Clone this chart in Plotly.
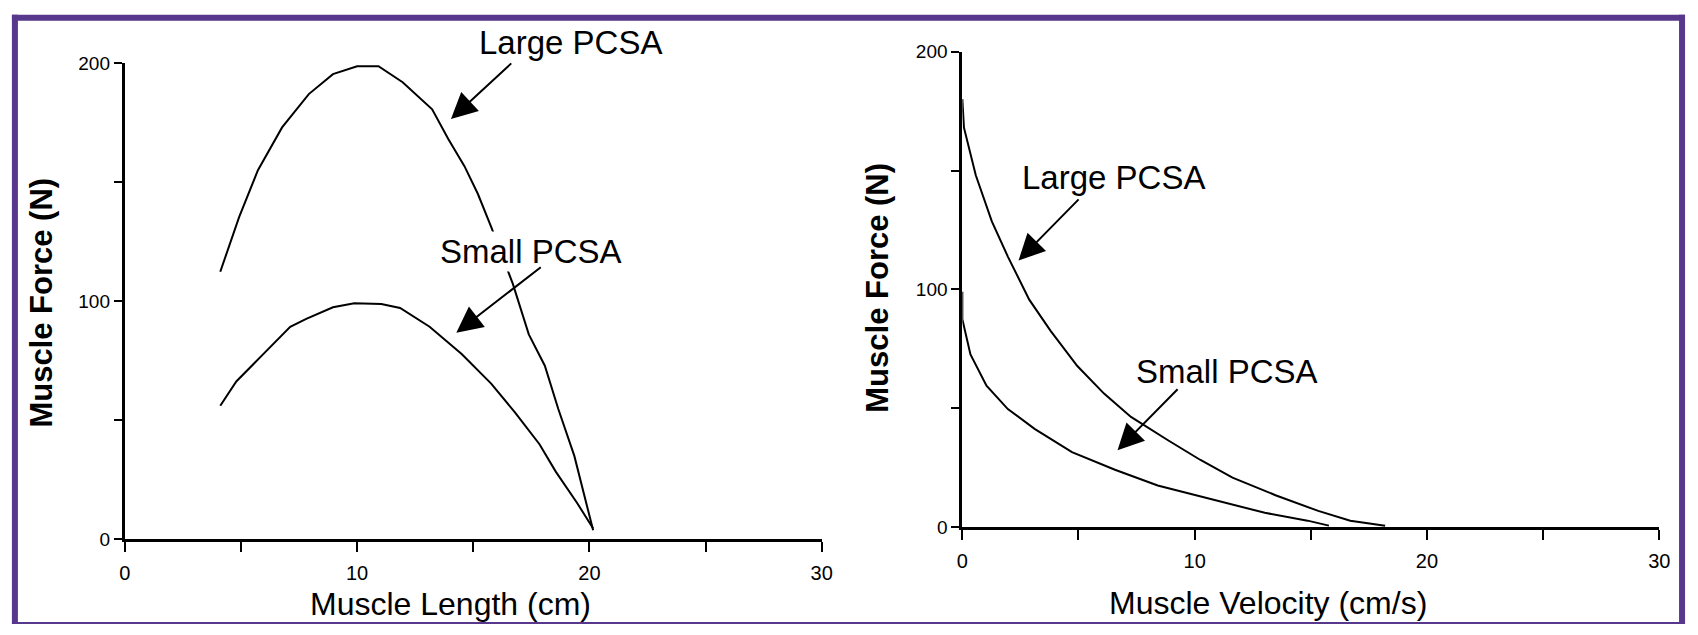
import plotly.graph_objects as go

W, H = 1698, 635

def px(x):
    return x / W

def py(y):
    return 1 - y / H

# ---- Data: Force-Length (left panel) ----
len_large_x = [4.11, 4.92, 5.73, 6.77, 7.92, 8.96, 10.0, 10.92, 11.96, 13.23, 13.93, 14.62, 15.2, 15.77,
               16.7, 17.39, 18.08, 18.66, 19.35, 20.16]
len_large_y = [112.3, 135.3, 155.0, 173.0, 187.0, 195.4, 198.7, 198.7, 192.0, 180.6, 168.0, 156.7, 145.0, 131.2,
               107.3, 86.0, 72.8, 54.6, 34.9, 3.6]
len_small_x = [4.11, 4.8, 5.96, 7.12, 7.81, 8.96, 9.88, 11.04, 11.85, 13.12, 14.5, 15.77, 16.81, 17.85,
               18.55, 19.47, 20.16]
len_small_y = [56.0, 66.2, 77.7, 89.2, 92.5, 97.4, 99.1, 98.8, 97.1, 89.2, 77.7, 65.3, 53.0, 39.8,
               28.3, 15.1, 4.4]

# ---- Data: Force-Velocity (right panel) ----
vel_large_x = [0.0, 0.07, 0.58, 1.27, 1.96, 2.88, 3.8, 4.95, 6.1, 7.26, 8.87, 10.25, 11.63, 13.48, 15.32,
               16.7, 18.2]
vel_large_y = [180.0, 168.0, 148.0, 128.6, 113.8, 95.7, 82.6, 67.8, 56.2, 46.4, 36.5, 28.3, 20.9, 13.5, 6.9,
               2.8, 0.7]
vel_small_x = [0.0, 0.0, 0.35, 1.04, 1.96, 3.11, 4.72, 6.57, 8.41, 10.71, 13.02, 14.86, 15.78]
vel_small_y = [99.0, 87.5, 72.7, 59.5, 49.7, 41.4, 31.6, 24.2, 17.6, 11.8, 6.1, 2.8, 0.7]

x_tickvals = [0, 5, 10, 15, 20, 25, 30]
x_ticktext = ["0", "", "10", "", "20", "", "30"]
y_tickvals = [0, 50, 100, 150, 200]
y_ticktext = ["0", "", "100", "", "200"]

FONT = "Liberation Sans, Arial, sans-serif"
LINE = dict(color="black", width=2)

fig = go.Figure()
fig.add_trace(go.Scatter(x=len_large_x, y=len_large_y, mode="lines", line=LINE, xaxis="x", yaxis="y"))
fig.add_trace(go.Scatter(x=len_small_x, y=len_small_y, mode="lines", line=LINE, xaxis="x", yaxis="y"))
fig.add_trace(go.Scatter(x=vel_large_x, y=vel_large_y, mode="lines", line=LINE, xaxis="x2", yaxis="y2"))
fig.add_trace(go.Scatter(x=vel_small_x, y=vel_small_y, mode="lines", line=LINE, xaxis="x2", yaxis="y2"))

def xaxis(domain, anchor):
    return dict(domain=domain, anchor=anchor, range=[0, 30], showline=True, linecolor="black", linewidth=3,
                ticks="outside", ticklen=10, tickwidth=2, tickcolor="black", tickvals=x_tickvals,
                ticktext=x_ticktext, showgrid=False, zeroline=False, ticklabelstandoff=4,
                tickfont=dict(family=FONT, size=20, color="black"))

def yaxis(domain, anchor):
    return dict(domain=domain, anchor=anchor, range=[0, 200], showline=True, linecolor="black", linewidth=3,
                ticks="outside", ticklen=8, tickwidth=2, tickcolor="black", tickvals=y_tickvals,
                ticktext=y_ticktext, showgrid=False, zeroline=False,
                tickfont=dict(family=FONT, size=19, color="black"))

fig.update_layout(
    width=W, height=H, margin=dict(l=0, r=0, t=0, b=0),
    paper_bgcolor="white", plot_bgcolor="white", showlegend=False, hovermode=False,
    xaxis=xaxis([px(120), px(824)], "y"),
    yaxis=yaxis([py(547), py(55)], "x"),
    xaxis2=xaxis([px(966), px(1670)], "y2"),
    yaxis2=yaxis([py(535), py(43)], "x2"),
)

LBL = dict(family=FONT, size=33, color="black")
ann = []
# text labels
ann.append(dict(x=19.17, y=200, xref="x", yref="y", yshift=21, text="Large PCSA", showarrow=False,
                font=LBL, xanchor="center", yanchor="middle"))
ann.append(dict(x=17.5, y=121, xref="x", yref="y", text="Small PCSA", showarrow=False, font=LBL,
                bgcolor="white", xanchor="center", yanchor="middle"))
ann.append(dict(x=6.5, y=147, xref="x2", yref="y2", text="Large PCSA", showarrow=False, font=LBL,
                xanchor="center", yanchor="middle"))
ann.append(dict(x=11.4, y=65.5, xref="x2", yref="y2", text="Small PCSA", showarrow=False, font=LBL,
                xanchor="center", yanchor="middle"))
# arrows (head, tail)
arrows = [("x", "y", 14.04, 176.5, 16.7, 200.5),
          ("x", "y", 14.27, 86.7, 17.97, 114.7),
          ("x2", "y2", 2.42, 112.2, 5.07, 138.5),
          ("x2", "y2", 6.68, 32.4, 9.33, 58.7)]
for xr, yr, hx, hy, tx, ty in arrows:
    ann.append(dict(x=hx, y=hy, ax=tx, ay=ty, xref=xr, yref=yr, axref=xr, ayref=yr, text="",
                    showarrow=True, arrowhead=2, arrowsize=2.6, arrowwidth=2, arrowcolor="black"))
# axis titles
TITLE = dict(family=FONT, size=32, color="black")
ann.append(dict(x=px(449), y=py(614), xref="paper", yref="paper", text="Muscle Length (cm)",
                showarrow=False, font=TITLE, xanchor="center", yanchor="middle"))
ann.append(dict(x=px(1275), y=py(613), xref="paper", yref="paper", text="Muscle Velocity (cm/s)",
                showarrow=False, font=TITLE, xanchor="center", yanchor="middle"))
ann.append(dict(x=px(36), y=py(303), xref="paper", yref="paper", text="<b>Muscle Force (N)</b>",
                showarrow=False, font=dict(family=FONT, size=31, color="black"), textangle=-90,
                xanchor="center", yanchor="middle"))
ann.append(dict(x=px(880), y=py(287), xref="paper", yref="paper", text="<b>Muscle Force (N)</b>",
                showarrow=False, font=dict(family=FONT, size=31, color="black"), textangle=-90,
                xanchor="center", yanchor="middle"))
fig.update_layout(annotations=ann)

# purple frame, kept fully inside the canvas
PURPLE = "#58388C"
frame = [(9, 5, 9, 635), (6, 8, 1696, 8), (1693, 5, 1693, 635)]
for x0, y0, x1, y1 in frame:
    fig.add_shape(type="line", xref="paper", yref="paper", x0=px(x0), y0=py(y0), x1=px(x1), y1=py(y1),
                  line=dict(color=PURPLE, width=6), layer="above")
fig.add_shape(type="line", xref="paper", yref="paper", x0=px(6), y0=py(634), x1=px(1696), y1=py(634),
              line=dict(color=PURPLE, width=2), layer="above")

page_css = ("document.documentElement.style.margin='0px';document.documentElement.style.padding='0px';"
            "document.documentElement.style.overflow='hidden';"
            "document.body.style.margin='0px';document.body.style.padding='0px';"
            "document.body.style.overflow='hidden';"
            "document.querySelectorAll('svg.main-svg').forEach(function(s){s.style.overflow='hidden';});")
fig.write_html("out.html", config={"displayModeBar": False, "staticPlot": True}, post_script=page_css)
